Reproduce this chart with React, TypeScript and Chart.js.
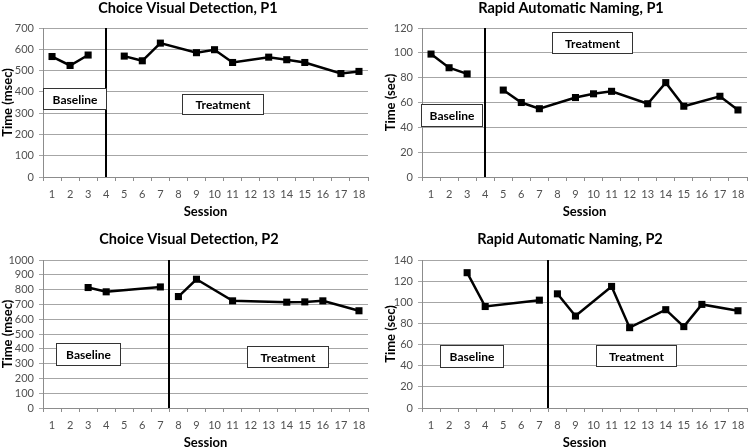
import React, { useEffect, useRef } from 'react';
import { Chart, registerables } from 'chart.js';

Chart.register(...registerables);

const FONT = 'Lato, "Open Sans", "DejaVu Sans", sans-serif';

// Session categories
const sessions = ['1', '2', '3', '4', '5', '6', '7', '8', '9', '10', '11', '12', '13', '14', '15', '16', '17', '18'];

// Choice Visual Detection, P1 (msec)
const cvdP1Baseline = [566, 524, 573, null, null, null, null, null, null, null, null, null, null, null, null, null, null, null];
const cvdP1Treatment = [null, null, null, null, 568, 546, 629, null, 584, 598, 538, null, 563, 551, 538, null, 486, 496];

// Rapid Automatic Naming, P1 (sec)
const ranP1Baseline = [99, 88, 83, null, null, null, null, null, null, null, null, null, null, null, null, null, null, null];
const ranP1Treatment = [null, null, null, null, 70, 60, 55, null, 64, 67, 69, null, 59, 76, 57, null, 65, 54];

// Choice Visual Detection, P2 (msec)
const cvdP2Baseline = [null, null, 814, 785, null, null, 818, null, null, null, null, null, null, null, null, null, null, null];
const cvdP2Treatment = [null, null, null, null, null, null, null, 753, 870, null, 724, null, null, 715, 717, 724, null, 657];

// Rapid Automatic Naming, P2 (sec)
const ranP2Baseline = [null, null, 128, 96, null, null, 102, null, null, null, null, null, null, null, null, null, null, null];
const ranP2Treatment = [null, null, null, null, null, null, null, 108, 87, null, 115, 76, null, 93, 77, 98, null, 92];

type Box = { text: string; x0: number; x1: number; y0: number; y1: number };

type Panel = {
  title: string;
  yTitle: string;
  baseline: (number | null)[];
  treatment: (number | null)[];
  yMax: number;
  yStep: number;
  phaseAt: number; // category index (fractional) of phase-change line
  boxes: Box[];
  left: number;
  top: number;
  L: number;
  R: number;
  T: number;
  B: number;
  titleX: number;
  titleY: number;
  yTitleX: number;
  xTitleY: number;
};

const W = 376;
const H = 224;

const panels: Panel[] = [
  {
    title: 'Choice Visual Detection, P1',
    yTitle: 'Time (msec)',
    baseline: cvdP1Baseline,
    treatment: cvdP1Treatment,
    yMax: 700,
    yStep: 100,
    phaseAt: 3,
    boxes: [
      { text: 'Baseline', x0: -0.5, x1: 3.0, y0: 319, y1: 418 },
      { text: 'Treatment', x0: 7.2, x1: 11.68, y0: 296, y1: 390 },
    ],
    left: 0, top: 0, L: 43, R: 368, T: 28, B: 177,
    titleX: 188, titleY: 8, yTitleX: 8, xTitleY: 212,
  },
  {
    title: 'Rapid Automatic Naming, P1',
    yTitle: 'Time (sec)',
    baseline: ranP1Baseline,
    treatment: ranP1Treatment,
    yMax: 120,
    yStep: 20,
    phaseAt: 3,
    boxes: [
      { text: 'Baseline', x0: -0.55, x1: 2.83, y0: 41, y1: 58.8 },
      { text: 'Treatment', x0: 6.71, x1: 11.11, y0: 99.9, y1: 116.8 },
    ],
    left: 376, top: 0, L: 46, R: 373, T: 28, B: 177,
    titleX: 195, titleY: 8, yTitleX: 15, xTitleY: 212,
  },
  {
    title: 'Choice Visual Detection, P2',
    yTitle: 'Time (msec)',
    baseline: cvdP2Baseline,
    treatment: cvdP2Treatment,
    yMax: 1000,
    yStep: 100,
    phaseAt: 6.5,
    boxes: [
      { text: 'Baseline', x0: 0.22, x1: 3.76, y0: 290, y1: 439 },
      { text: 'Treatment', x0: 10.8, x1: 15.28, y0: 277, y1: 419 },
    ],
    left: 0, top: 224, L: 43, R: 368, T: 36, B: 184,
    titleX: 189, titleY: 15, yTitleX: 8, xTitleY: 219,
  },
  {
    title: 'Rapid Automatic Naming, P2',
    yTitle: 'Time (sec)',
    baseline: ranP2Baseline,
    treatment: ranP2Treatment,
    yMax: 140,
    yStep: 20,
    phaseAt: 6.5,
    boxes: [
      { text: 'Baseline', x0: 0.48, x1: 3.99, y0: 38.8, y1: 59.6 },
      { text: 'Treatment', x0: 9.13, x1: 13.56, y0: 39.7, y1: 59.6 },
    ],
    left: 376, top: 224, L: 46, R: 375, T: 36, B: 184,
    titleX: 194, titleY: 15, yTitleX: 15, xTitleY: 219,
  },
];

function PanelChart({ p }: { p: Panel }) {
  const ref = useRef<HTMLCanvasElement | null>(null);

  useEffect(() => {
    if (!ref.current) return;

    const overlay = {
      id: 'overlay',
      beforeDatasetsDraw(chart: any) {
        const { ctx, chartArea, scales } = chart;
        const x = Math.round(scales.x.getPixelForValue(p.phaseAt));
        ctx.save();
        ctx.strokeStyle = '#000';
        ctx.lineWidth = 2;
        ctx.beginPath();
        ctx.moveTo(x, chartArea.top);
        ctx.lineTo(x, chartArea.bottom);
        ctx.stroke();
        ctx.restore();
      },
      afterDatasetsDraw(chart: any) {
        const { ctx, scales } = chart;
        ctx.save();
        for (const b of p.boxes) {
          const x0 = Math.round(scales.x.getPixelForValue(b.x0)) + 0.5;
          const x1 = Math.round(scales.x.getPixelForValue(b.x1)) + 0.5;
          const y0 = Math.round(scales.y.getPixelForValue(b.y1)) + 0.5;
          const y1 = Math.round(scales.y.getPixelForValue(b.y0)) + 0.5;
          ctx.fillStyle = '#fff';
          ctx.fillRect(x0, y0, x1 - x0, y1 - y0);
          ctx.strokeStyle = '#333';
          ctx.lineWidth = 1;
          ctx.strokeRect(x0, y0, x1 - x0, y1 - y0);
          ctx.fillStyle = '#000';
          ctx.font = `bold 12px ${FONT}`;
          ctx.textAlign = 'center';
          ctx.textBaseline = 'middle';
          ctx.fillText(b.text, (x0 + x1) / 2, (y0 + y1) / 2 + 1);
        }
        ctx.restore();
      },
      afterDraw(chart: any) {
        const { ctx, chartArea } = chart;
        ctx.save();
        ctx.fillStyle = '#000';
        ctx.textAlign = 'center';
        ctx.textBaseline = 'middle';
        ctx.font = `bold 14.5px ${FONT}`;
        ctx.fillText(p.title, p.titleX, p.titleY);
        ctx.font = `bold 13px ${FONT}`;
        ctx.fillText('Session', (chartArea.left + chartArea.right) / 2, p.xTitleY);
        ctx.translate(p.yTitleX, (chartArea.top + chartArea.bottom) / 2);
        ctx.rotate(-Math.PI / 2);
        ctx.fillText(p.yTitle, 0, 0);
        ctx.restore();
      },
    };

    const lineStyle = {
      borderColor: '#000',
      borderWidth: 2.5,
      pointStyle: 'rect' as const,
      pointRadius: 5,
      pointBackgroundColor: '#000',
      pointBorderColor: '#000',
      pointBorderWidth: 0,
      spanGaps: true,
      tension: 0,
    };

    const chart = new Chart(ref.current, {
      type: 'line',
      data: {
        labels: sessions,
        datasets: [
          { label: 'Baseline', data: p.baseline, ...lineStyle },
          { label: 'Treatment', data: p.treatment, ...lineStyle },
        ],
      },
      options: {
        responsive: false,
        animation: false,
        events: [],
        layout: { padding: { left: 0, top: p.T, right: W - p.R, bottom: 0 } },
        plugins: { legend: { display: false }, tooltip: { enabled: false }, title: { display: false } },
        scales: {
          x: {
            type: 'category',
            offset: true,
            afterFit: (s: any) => { s.height = H - p.B; },
            grid: { offset: true, drawOnChartArea: false, drawTicks: true, tickLength: 4, color: '#8c8c8c' },
            border: { display: true, color: '#8c8c8c', width: 1 },
            ticks: { autoSkip: false, maxRotation: 0, padding: 7, color: '#505050', font: { family: FONT, size: 11 } },
          },
          y: {
            min: 0,
            max: p.yMax,
            afterFit: (s: any) => { s.width = p.L; },
            grid: { color: '#a6a6a6', lineWidth: 1, tickLength: 4, drawTicks: true },
            border: { display: true, color: '#8c8c8c', width: 1 },
            ticks: {
              stepSize: p.yStep,
              autoSkip: false,
              padding: 5,
              color: '#505050',
              font: { family: FONT, size: 11 },
              callback: (v: any) => String(v),
            },
          },
        },
      },
      plugins: [overlay],
    });

    return () => chart.destroy();
  }, [p]);

  return (
    <div style={{ position: 'absolute', left: p.left, top: p.top, width: W, height: H }}>
      <canvas ref={ref} width={W} height={H} style={{ width: W, height: H, display: 'block' }} />
    </div>
  );
}

export default function App() {
  return (
    <div style={{ position: 'absolute', left: 0, top: 0, width: 752, height: 448, background: '#fff', overflow: 'hidden' }}>
      {panels.map((p, i) => (
        <PanelChart key={i} p={p} />
      ))}
    </div>
  );
}
